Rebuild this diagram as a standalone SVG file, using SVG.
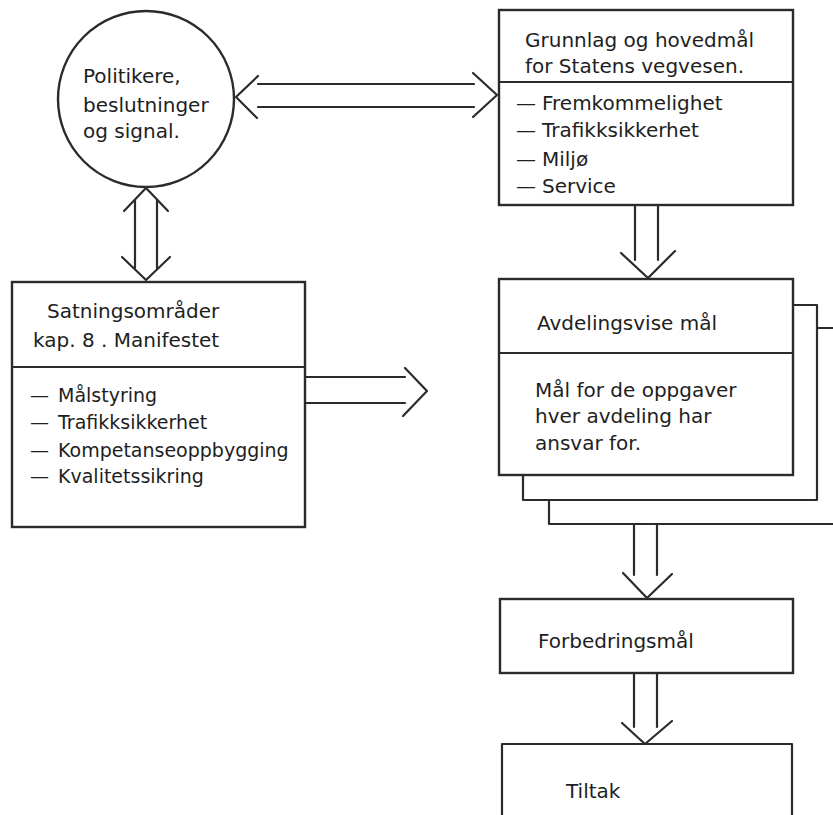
<svg xmlns="http://www.w3.org/2000/svg" width="833" height="815" viewBox="0 0 833 815">
<style>
.ln{fill:none;stroke:#2b2b2b;stroke-width:2.2;stroke-linecap:round;stroke-linejoin:round}
.bx{fill:#fff;stroke:#2b2b2b;stroke-width:2.4}
.t{font-family:"DejaVu Sans","Liberation Sans",sans-serif;font-size:20px;fill:#1e1e1e}
.s{font-size:19px}
</style>
<rect width="833" height="815" fill="#fff"/>
<g id="connectors">
  <!-- circle <-> top box -->
  <path class="ln" d="M258,84 H474 M258,107 H474"/>
  <path class="ln" d="M258,76 L236,97 L257,118"/>
  <path class="ln" d="M473,73 L497,95 L473,117"/>
  <!-- circle <-> left box -->
  <path class="ln" d="M135,200 V268 M157,200 V268"/>
  <path class="ln" d="M124,211 L146,188 L168,211"/>
  <path class="ln" d="M122,257 L146,280 L170,257"/>
  <!-- left box -> right -->
  <path class="ln" d="M306,377 H405 M306,403 H405"/>
  <path class="ln" d="M405,368 L427,391 L403,416"/>
  <!-- top box -> avdelingsvise -->
  <path class="ln" d="M635,206 V260 M658,206 V260"/>
  <path class="ln" d="M621,253 L648,278 L675,251"/>
  <!-- stack -> forbedringsmal -->
  <path class="ln" d="M634,525 V575 M657,525 V575"/>
  <path class="ln" d="M623,573 L647,598 L672,574"/>
  <!-- forbedringsmal -> tiltak -->
  <path class="ln" d="M634,674 V727 M657,674 V727"/>
  <path class="ln" d="M622,723 L645,744 L672,721"/>
</g>
<g id="politikere">
  <circle class="bx" cx="146" cy="99" r="88"/>
  <text class="t" x="83" y="83">Politikere,</text>
  <text class="t" x="83" y="112">beslutninger</text>
  <text class="t" x="83" y="138">og signal.</text>
</g>
<g id="grunnlag">
  <rect class="bx" x="499" y="10" width="294" height="195"/>
  <path class="ln" d="M499,82 H793"/>
  <text class="t" x="525" y="47">Grunnlag og hovedmål</text>
  <text class="t" x="525" y="73">for Statens vegvesen.</text>
  <text class="t" x="516" y="110">—<tspan x="542">Fremkommelighet</tspan></text>
  <text class="t" x="516" y="137">—<tspan x="542">Trafikksikkerhet</tspan></text>
  <text class="t" x="516" y="166">—<tspan x="542">Miljø</tspan></text>
  <text class="t" x="516" y="193">—<tspan x="542">Service</tspan></text>
</g>
<g id="satningsomrader">
  <rect class="bx" x="12" y="282" width="293" height="245"/>
  <path class="ln" d="M12,367 H305"/>
  <text class="t" x="47" y="318">Satningsområder</text>
  <text class="t" x="33" y="347">kap. 8 . Manifestet</text>
  <text class="t s" x="30" y="402">—<tspan x="58">Målstyring</tspan></text>
  <text class="t s" x="30" y="429">—<tspan x="58">Trafikksikkerhet</tspan></text>
  <text class="t s" x="30" y="457">—<tspan x="58">Kompetanseoppbygging</tspan></text>
  <text class="t s" x="30" y="483">—<tspan x="58">Kvalitetssikring</tspan></text>
</g>
<g id="avdelingsvise">
  <path class="ln" d="M549,500 V524 H833 M818,328 H833"/>
  <path class="ln" d="M523,475 V500 H817 V305 H793"/>
  <rect class="bx" x="499" y="279" width="294" height="196"/>
  <path class="ln" d="M499,353 H793"/>
  <text class="t" x="537" y="330">Avdelingsvise mål</text>
  <text class="t" x="535" y="397">Mål for de oppgaver</text>
  <text class="t" x="535" y="423">hver avdeling har</text>
  <text class="t" x="535" y="450">ansvar for.</text>
</g>
<g id="forbedringsmal">
  <rect class="bx" x="500" y="599" width="293" height="74"/>
  <text class="t" x="538" y="648">Forbedringsmål</text>
</g>
<g id="tiltak">
  <path class="ln" d="M502,820 V744 H792 V820"/>
  <text class="t" x="566" y="798">Tiltak</text>
</g>
</svg>
